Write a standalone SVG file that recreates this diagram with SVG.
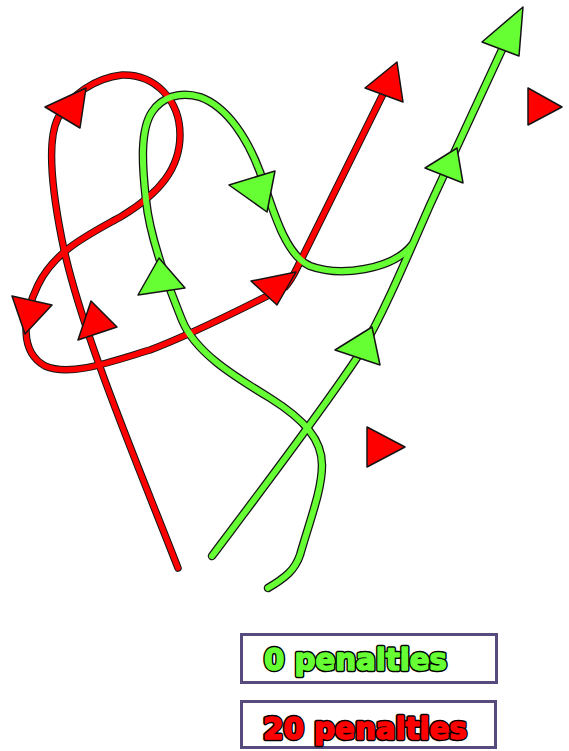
<svg xmlns="http://www.w3.org/2000/svg" width="569" height="751" viewBox="0 0 569 751">
<style>
.ol{fill:none;stroke:#141414;stroke-linecap:round;stroke-linejoin:round}
.r{fill:none;stroke:#ff0000;stroke-width:5.5;stroke-linecap:round;stroke-linejoin:round}
.g{fill:none;stroke:#66ff33;stroke-width:6;stroke-linecap:round;stroke-linejoin:round}
.olr{stroke-width:7.5}
.olg{stroke-width:8.5}
.tr{fill:#ff0000;stroke:#141414;stroke-width:1.5;stroke-linejoin:round}
.tg{fill:#66ff33;stroke:#141414;stroke-width:1.5;stroke-linejoin:round}
.box{fill:#ffffff;stroke:#574a7c;stroke-width:3}
.lbl{font-family:"DejaVu Sans",sans-serif;font-weight:bold;font-size:30px;stroke-linejoin:round}
.lo{fill:#000;stroke:#000;stroke-width:4.5}
</style>
<rect width="569" height="751" fill="#ffffff"/>
<g id="connectors">
  <path id="redOutline" class="ol olr" d="M178,568 C140,470 80,330 62,240 C52,190 47,140 58,118 C70,95 95,78 122,75 C155,74 180,100 180,135 C180,168 160,193 122,216 C90,234 55,250 38,285 C22,318 20,352 45,366 C70,377 110,362 150,350 C190,335 240,310 285,287 C292,280 296,270 300,262 L390,80"/>
  <path id="greenOutline1" class="ol olg" d="M212,556 C260,492 330,400 362,350 C385,310 405,262 430,205 L512,28"/>
  <path id="greenOutline2" class="ol olg" d="M268,588 C285,578 295,570 300,555 C310,520 322,490 322,465 C322,440 305,420 270,398 C232,375 195,352 182,320 C170,290 150,240 146,200 C142,165 140,130 152,112 C162,97 180,91 200,97 C228,107 248,140 260,172 C273,210 285,255 310,266 C340,277 392,270 412,245"/>
  <path class="r" d="M178,568 C140,470 80,330 62,240 C52,190 47,140 58,118 C70,95 95,78 122,75 C155,74 180,100 180,135 C180,168 160,193 122,216 C90,234 55,250 38,285 C22,318 20,352 45,366 C70,377 110,362 150,350 C190,335 240,310 285,287 C292,280 296,270 300,262 L390,80"/>
  <path class="g" d="M212,556 C260,492 330,400 362,350 C385,310 405,262 430,205 L512,28"/>
  <path class="g" d="M268,588 C285,578 295,570 300,555 C310,520 322,490 322,465 C322,440 305,420 270,398 C232,375 195,352 182,320 C170,290 150,240 146,200 C142,165 140,130 152,112 C162,97 180,91 200,97 C228,107 248,140 260,172 C273,210 285,255 310,266 C340,277 392,270 412,245"/>
  <polygon class="tr" points="45,107 86,88 80,128"/>
  <polygon class="tr" points="78,340 91,301 117,327"/>
  <polygon class="tr" points="12,296 52,305 25,334"/>
  <polygon class="tr" points="251,281 296,272 277,305"/>
  <polygon class="tr" points="365,88 397,62 403,102"/>
  <polygon class="tg" points="482,42 523,7 519,56"/>
  <polygon class="tg" points="425,168 457,148 463,183"/>
  <polygon class="tg" points="335,350 372,327 380,365"/>
  <polygon class="tg" points="138,295 159,258 185,288"/>
  <polygon class="tg" points="229,185 275,171 267,212"/>
</g>
<g id="marker1"><polygon class="tr" points="528,88 562,107 528,125"/></g>
<g id="marker2"><polygon class="tr" points="367,427 405,447 367,467"/></g>
<g id="legend0">
  <rect class="box" x="241.5" y="634.5" width="255" height="48"/>
  <text class="lbl lo" x="264" y="670" textLength="183" lengthAdjust="spacingAndGlyphs">0 penalties</text>
  <text class="lbl" x="264" y="670" textLength="183" lengthAdjust="spacingAndGlyphs" fill="#66ff33" stroke="#66ff33" stroke-width="1.6">0 penalties</text>
</g>
<g id="legend20">
  <rect class="box" x="241.5" y="701.5" width="254" height="46"/>
  <text class="lbl lo" x="263" y="739" textLength="204" lengthAdjust="spacingAndGlyphs">20 penalties</text>
  <text class="lbl" x="263" y="739" textLength="204" lengthAdjust="spacingAndGlyphs" fill="#ff0000" stroke="#ff0000" stroke-width="1.6">20 penalties</text>
</g>
</svg>
